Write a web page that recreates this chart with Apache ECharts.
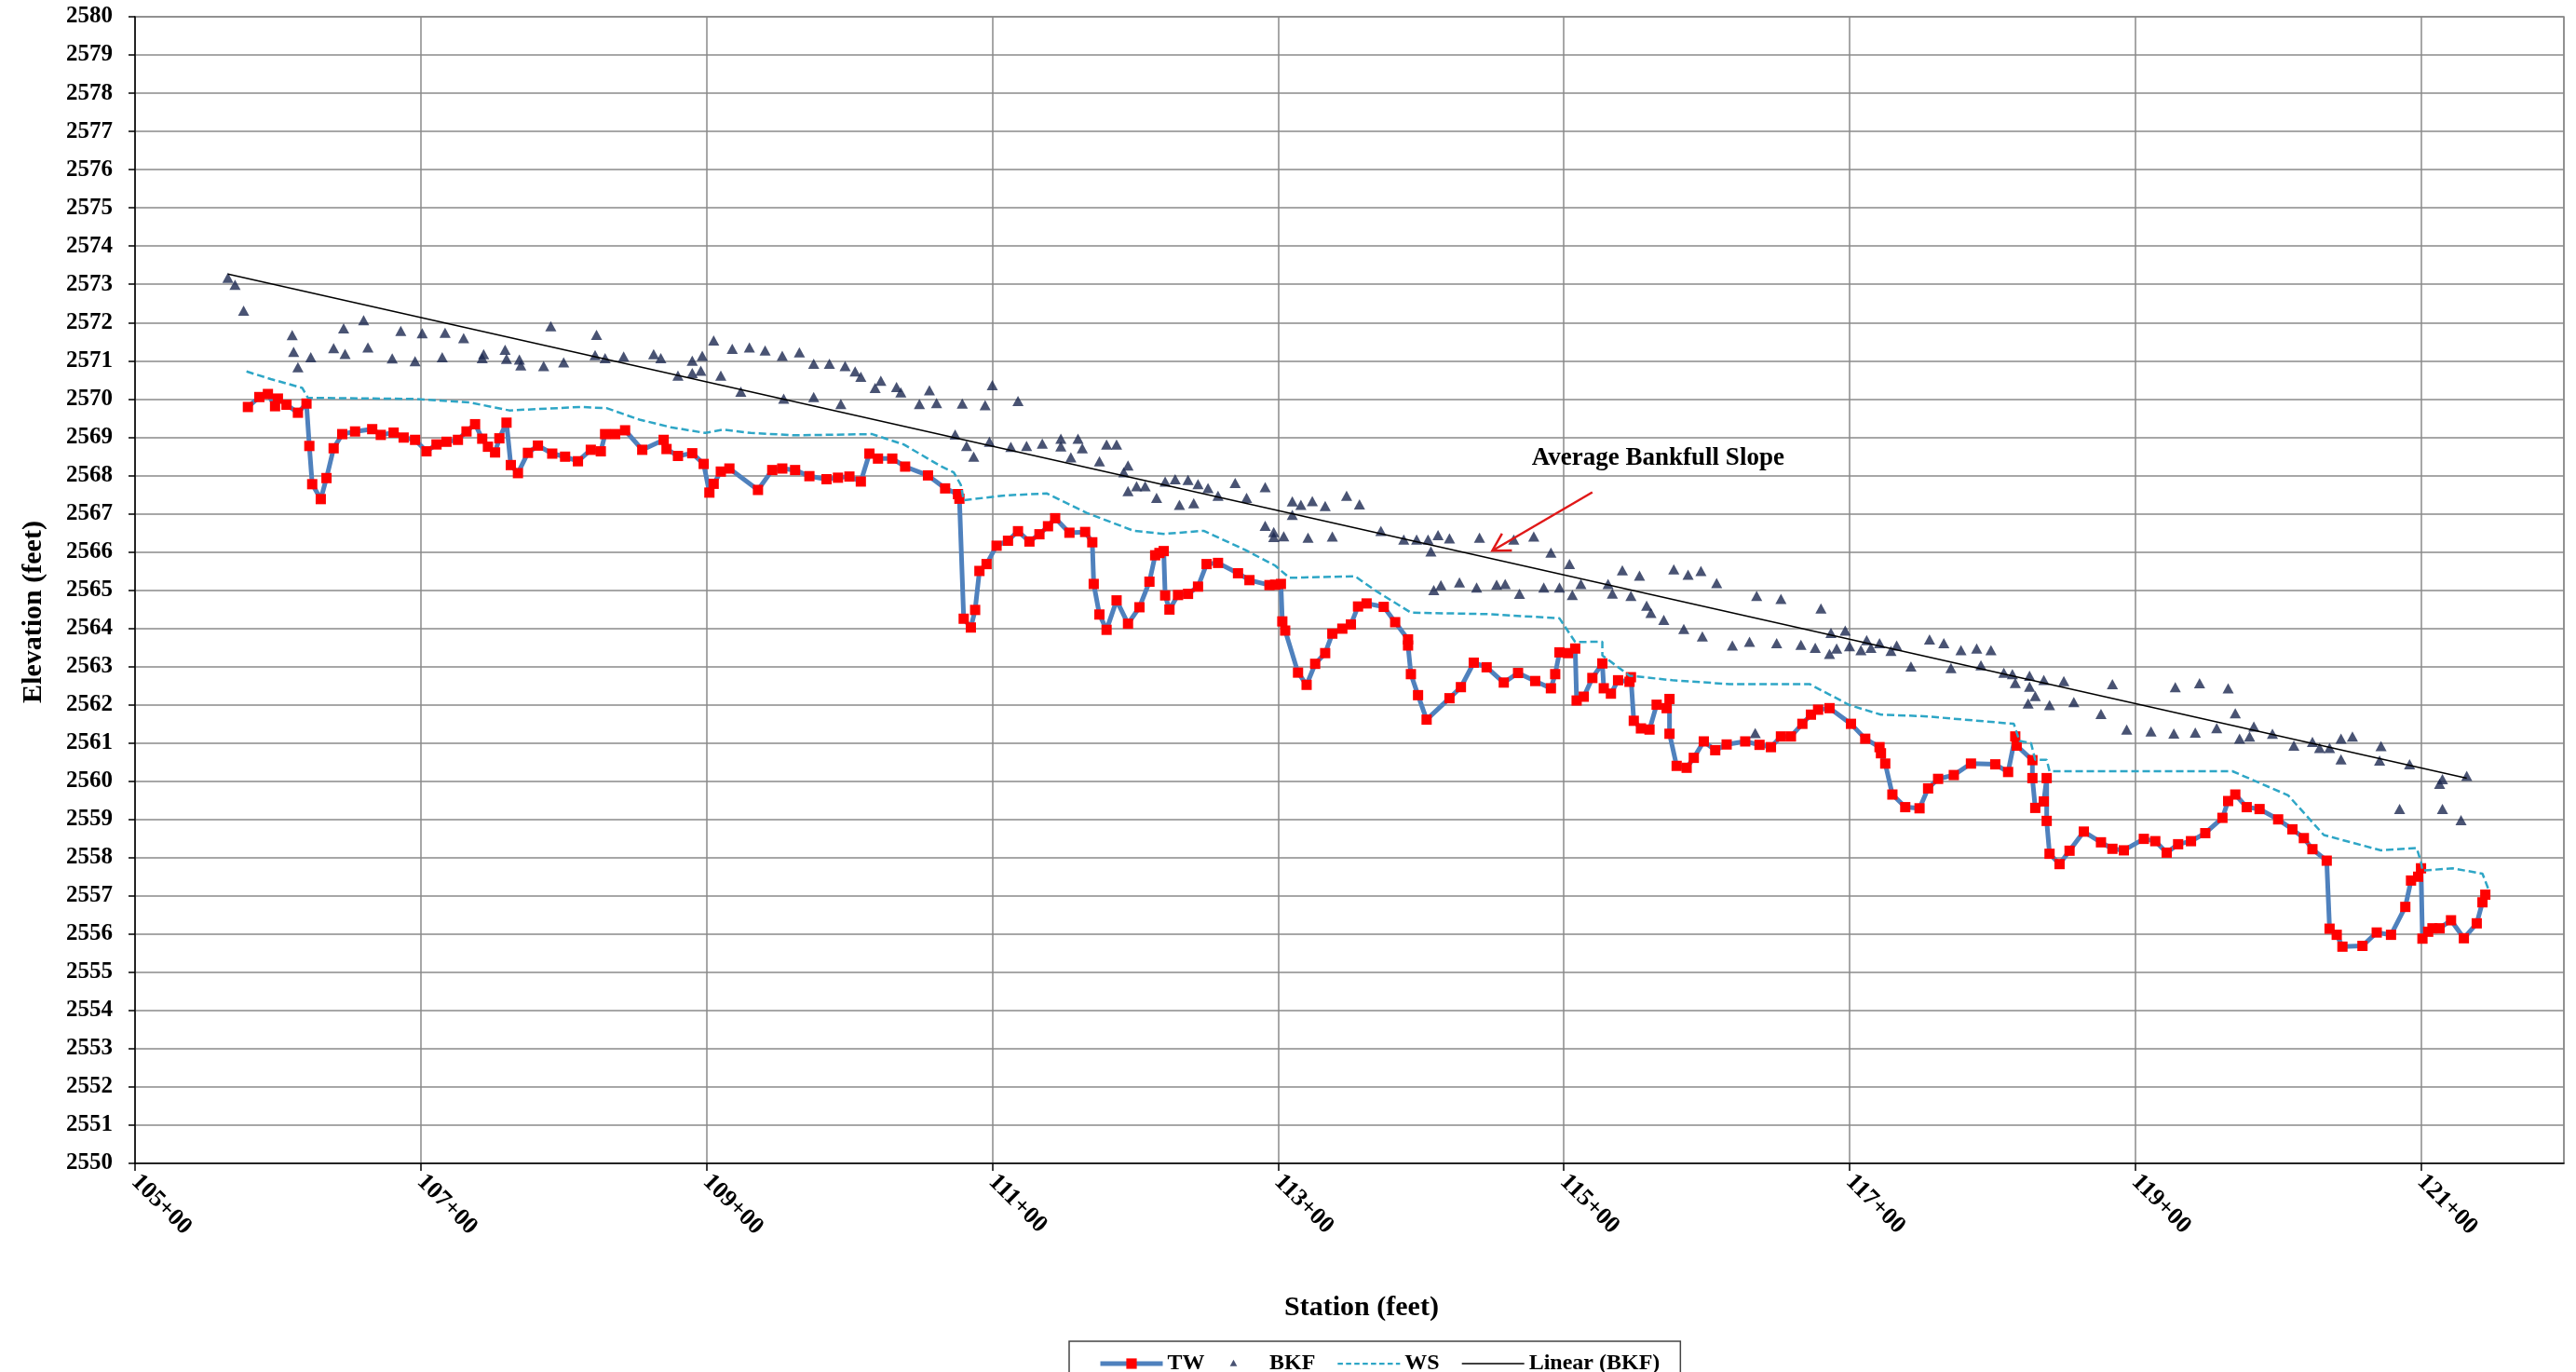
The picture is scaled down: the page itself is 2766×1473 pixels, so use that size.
<!DOCTYPE html>
<html><head><meta charset="utf-8">
<script src="https://cdn.jsdelivr.net/npm/echarts@6.0.0/dist/echarts.min.js"></script>
<style>html,body{margin:0;padding:0;background:#fff;}#c{width:2766px;height:1473px;}</style>
</head><body><div id="c"></div>
<script>
// ---------------- data ----------------
const STATION_ORIGIN = 10500;      // 105+00
const STATION_MAX = 12200;
const STATION_STEP = 200;
const ELEV_MIN = 2550, ELEV_MAX = 2580, ELEV_STEP = 1;

const twStation = [10579,10587,10593,10598,10600,10606,10614,10620,10622,10624,10630,10634,10639,10645,10654,10666,10672,10681,10688,10696,10704,10711,10718,10726,10732,10738,10743,10747,10752,10755,10760,10763,10768,10775,10782,10792,10801,10810,
10819,10826,10829,10836,10843,10855,10870,10872,10880,10890,10898,10902,10905,10910,10916,10936,10946,10953,10962,10972,10984,10992,11000,11008,11014,11020,11030,11039,11055,11067,
11076,11077,11080,11085,11088,11091,11096,11103,11111,11118,11126,11133,11139,11144,11154,11165,11170,11171,11175,11180,11187,11195,11203,11210,11214,11217,11220,11221,11224,11230,11237,11244,11250,11258,11272,11280,11294,11298,11302,11303,11305,11314,11320,
11326,11333,11338,11345,11351,11356,11362,11374,11382,11391,11391,11393,11398,11404,11420,11428,11437,11446,11458,11468,11480,11491,11494,11497,11503,11508,11509,11514,11520,11527,11528,11533,11538,11546,11547,11549,11554,11560,11565,11572,11574,11574,11579,
11586,11591,11598,11606,11614,11627,11637,11645,11652,11659,11667,11673,11678,11686,11701,11711,11721,11722,11725,11730,11739,11749,11755,11762,11773,11785,11802,11811,11816,11817,11828,11828,11830,
11836,11838,11838,11840,11847,11854,11864,11876,11884,11892,11906,11914,11922,11930,11939,11949,11961,11965,11970,11978,11987,12000,12010,12018,12024,12034,
12036,12041,12045,12059,12069,12079,12089,12093,12098,12100,12101,12105,12108,12113,12121,12130,12139,12143,12145];
const twElev = [2569.79,2570.05,2570.13,2569.81,2570.01,2569.85,2569.64,2569.88,2568.77,2567.77,2567.38,2567.93,2568.71,2569.08,2569.15,2569.21,2569.06,2569.12,2568.99,2568.93,2568.63,2568.81,2568.88,2568.93,2569.15,2569.34,2568.96,2568.75,2568.60,2568.97,2569.38,2568.27,2568.06,2568.59,2568.78,2568.57,2568.49,2568.37,
2568.67,2568.63,2569.08,2569.08,2569.18,2568.67,2568.93,2568.69,2568.51,2568.58,2568.30,2567.55,2567.78,2568.10,2568.18,2567.62,2568.14,2568.18,2568.14,2567.98,2567.90,2567.94,2567.97,2567.84,2568.57,2568.44,2568.44,2568.23,2568.00,2567.66,
2567.51,2567.39,2564.25,2564.02,2564.48,2565.50,2565.68,2566.16,2566.29,2566.54,2566.27,2566.46,2566.67,2566.88,2566.50,2566.52,2566.25,2565.16,2564.36,2563.96,2564.73,2564.12,2564.55,2565.22,2565.91,2565.97,2566.02,2564.86,2564.49,2564.87,2564.90,2565.09,2565.68,2565.71,2565.44,2565.26,2565.13,2565.14,2565.16,2564.18,2563.94,2562.84,2562.52,
2563.07,2563.35,2563.86,2563.99,2564.10,2564.57,2564.65,2564.56,2564.16,2563.71,2563.55,2562.80,2562.25,2561.61,2562.17,2562.46,2563.10,2562.98,2562.58,2562.83,2562.62,2562.43,2562.80,2563.37,2563.35,2563.47,2562.11,2562.21,2562.70,2563.08,2562.43,2562.29,2562.64,2562.60,2562.72,2561.58,2561.38,2561.35,2562.00,2561.91,2562.15,2561.24,2560.40,
2560.35,2560.61,2561.04,2560.81,2560.96,2561.04,2560.95,2560.89,2561.17,2561.17,2561.50,2561.74,2561.87,2561.91,2561.50,2561.11,2560.89,2560.73,2560.46,2559.65,2559.32,2559.29,2559.81,2560.06,2560.16,2560.46,2560.44,2560.24,2561.17,2560.93,2560.55,2560.08,2559.30,
2559.47,2560.08,2558.96,2558.10,2557.83,2558.18,2558.68,2558.40,2558.23,2558.19,2558.49,2558.43,2558.13,2558.35,2558.43,2558.64,2559.04,2559.48,2559.65,2559.32,2559.27,2559.00,2558.74,2558.51,2558.22,2557.92,
2556.14,2555.98,2555.67,2555.69,2556.04,2555.98,2556.71,2557.40,2557.50,2557.72,2555.88,2556.06,2556.15,2556.15,2556.36,2555.89,2556.28,2556.83,2557.03];

const bkfStation = [10565,10570,10576,10610,10611,10614,10623,10639,10646,10647,10660,10663,10680,10686,10696,10701,10715,10717,10730,10743,10744,10759,10760,10769,10770,10786,10791,10800,
10822,10823,10829,10842,10863,10868,10880,10890,10890,10896,10897,10905,10910,10918,10924,10930,10941,10953,10954,10965,10975,10975,10986,10994,10997,11004,11008,11018,11022,11033,11036,11049,11056,11061,
11074,11079,11082,11087,11095,11098,11100,11113,11118,11124,11135,11148,11148,11155,11160,11163,11175,11180,11187,11192,11195,11195,11201,11207,11215,11221,11228,11231,11237,11241,11244,11251,11258,11270,11278,11291,11291,11297,11297,11304,11310,11310,11316,11321,11324,
11333,11338,11348,11357,11372,11388,11397,11405,11407,11412,11420,11441,11465,11479,11491,11409,11414,11427,11439,11453,11459,11469,11486,11497,11504,11506,11512,11531,11534,11541,11553,11547,11558,11561,11570,11577,
11587,11596,11607,11635,11652,11680,11584,11597,11618,11630,11649,11666,11676,11686,11687,11691,11697,11700,11708,11712,11715,11721,11729,11733,11743,11756,11766,11771,11778,11789,11792,11799,11808,11814,11816,11826,11826,11830,11825,11634,
11836,11840,11850,11857,11876,11884,11894,11911,11927,11928,11942,11945,11957,11965,11970,11973,11980,11983,11996,12011,
12024,12029,12036,12044,12044,12052,12072,12071,12092,12085,12113,12115,12115,12128,12132];
const bkfElev = [2573.17,2572.99,2572.31,2571.67,2571.23,2570.83,2571.09,2571.33,2571.85,2571.18,2572.06,2571.35,2571.06,2571.78,2570.99,2571.72,2571.09,2571.73,2571.59,2571.07,2571.17,2571.29,2571.05,2571.03,2570.88,2570.86,2571.90,2570.96,
2571.15,2571.68,2571.07,2571.11,2571.17,2571.07,2570.61,2571.00,2570.68,2570.74,2571.13,2571.53,2570.61,2571.31,2570.19,2571.35,2571.27,2571.13,2570.01,2571.22,2570.92,2570.05,2570.92,2569.87,2570.86,2570.72,2570.58,2570.29,2570.48,2570.31,2570.17,2569.87,2570.23,2569.89,
2569.07,2569.88,2568.77,2568.49,2569.84,2568.88,2570.36,2568.75,2569.95,2568.77,2568.83,2568.96,2568.76,2568.47,2568.96,2568.71,2568.37,2568.81,2568.81,2568.08,2568.26,2567.59,2567.72,2567.72,2567.41,2567.84,2567.90,2567.23,2567.88,2567.27,2567.77,2567.67,2567.47,2567.80,2567.41,2567.69,2566.68,2566.52,2566.39,2566.41,2567.32,2566.97,2567.23,2566.37,2567.33,
2567.20,2566.40,2567.47,2567.24,2566.55,2566.32,2566.32,2566.32,2566.01,2566.44,2566.35,2566.37,2566.32,2566.40,2565.98,2565.00,2565.13,2565.20,2565.07,2565.14,2565.16,2564.90,2565.07,2565.07,2565.68,2564.87,2565.16,2565.16,2564.91,2565.52,2565.38,2564.85,2564.59,2564.40,2564.22,2565.54,
2565.40,2565.50,2565.18,2564.85,2564.77,2564.52,2563.98,2563.79,2563.55,2563.65,2563.61,2563.57,2563.49,2563.33,2563.88,2563.47,2563.94,2563.53,2563.43,2563.69,2563.49,2563.61,2563.41,2563.55,2563.00,2563.71,2563.61,2562.96,2563.43,2563.47,2563.03,2563.43,2562.84,2562.80,2562.57,2562.76,2562.47,2562.23,2562.03,2561.26,
2562.65,2561.99,2562.62,2562.07,2561.76,2562.54,2561.35,2561.30,2561.25,2562.46,2561.27,2562.56,2561.39,2562.43,2561.78,2561.11,2561.17,2561.43,2561.24,2560.93,
2561.03,2560.87,2560.87,2561.11,2560.57,2561.17,2560.92,2560.54,2560.44,2559.27,2559.93,2560.05,2559.27,2558.98,2560.14];

const wsStation = [10578,10595,10617,10621,10697,10734,10762,10773,10812,10830,10853,10875,10899,10912,10931,10962,11016,11038,11064,11073,11078,11080,11107,11138,11166,11199,11220,11248,11277,11298,11308,11318,11354,11368,11393,11448,11497,11508,11527,11527,11546,11576,11616,11672,11700,11722,11752,11815,11819,11827,11830,11838,11840,11968,12007,12032,12072,12097,12100,12101,12122,12143,12147];
const wsElev = [2570.72,2570.52,2570.29,2570.03,2570.00,2569.91,2569.70,2569.72,2569.79,2569.76,2569.46,2569.26,2569.11,2569.20,2569.11,2569.05,2569.08,2568.81,2568.24,2568.08,2567.75,2567.35,2567.47,2567.53,2567.02,2566.55,2566.47,2566.55,2566.05,2565.64,2565.32,2565.33,2565.36,2564.99,2564.41,2564.37,2564.26,2563.64,2563.65,2563.29,2562.76,2562.64,2562.54,2562.54,2561.99,2561.74,2561.70,2561.50,2561.05,2561.00,2560.56,2560.56,2560.26,2560.26,2559.63,2558.59,2558.19,2558.25,2557.88,2557.66,2557.72,2557.58,2557.19];

const seriesNames = ['TW', 'BKF', 'WS', 'Linear (BKF)'];
const annotationText = 'Average Bankfull Slope';
const annotationTextAt = [11566, 2568.44];
const annotationArrowFrom = [11520, 2567.56];
const annotationArrowTo = [11450, 2566.03];

// ---------------- build ----------------
const pairs = (s, e) => s.map((v, i) => [v - STATION_ORIGIN, e[i]]);
function linReg(xs, ys) {
  const n = xs.length;
  let sx = 0, sy = 0, sxx = 0, sxy = 0;
  for (let i = 0; i < n; i++) { sx += xs[i]; sy += ys[i]; sxx += xs[i]*xs[i]; sxy += xs[i]*ys[i]; }
  const b = (n*sxy - sx*sy) / (n*sxx - sx*sx);
  const a = (sy - b*sx) / n;
  return { a, b };
}
const reg = linReg(bkfStation, bkfElev);
const bMin = Math.min(...bkfStation), bMax = Math.max(...bkfStation);
const trendData = [[bMin - STATION_ORIGIN, reg.a + reg.b*bMin], [bMax - STATION_ORIGIN, reg.a + reg.b*bMax]];

const FONT = '"Liberation Serif","Times New Roman",serif';
const fmtStation = v => {
  const s = Math.round(v + STATION_ORIGIN);
  return Math.floor(s/100) + '+' + String(s % 100).padStart(2, '0');
};

const WS_COLOR = '#2EA6C6';
const TW_LINE = '#4F81BD';
const chart = echarts.init(document.getElementById('c'));
chart.setOption({
  animation: false,
  backgroundColor: '#fff',
  grid: { left: 145, top: 18, right: 13, bottom: 224, containLabel: false, outerBoundsMode: 'none',
          show: true, borderColor: '#8a8a8a', borderWidth: 1.5, backgroundColor: 'transparent' },
  xAxis: {
    type: 'value', min: 0, max: STATION_MAX - STATION_ORIGIN, interval: STATION_STEP,
    name: 'Station (feet)', nameLocation: 'middle', nameGap: 140,
    nameTextStyle: { fontFamily: FONT, fontWeight: 'bold', fontSize: 30, color: '#000', padding: [0, 0, 0, 26] },
    axisLine: { show: true, onZero: false, lineStyle: { color: '#000', width: 1.5 } },
    axisTick: { show: true, length: 8, lineStyle: { color: '#000', width: 1.5 } },
    axisLabel: { rotate: -45, margin: 16, showMaxLabel: false, fontFamily: FONT, fontWeight: 'bold', fontSize: 26, color: '#000',
                 formatter: v => (Math.round(v) % STATION_STEP === 0 ? fmtStation(v) : '') },
    splitLine: { show: true, lineStyle: { color: '#8a8a8a', width: 1.5 } }
  },
  yAxis: {
    type: 'value', min: ELEV_MIN, max: ELEV_MAX, interval: ELEV_STEP,
    name: 'Elevation (feet)', nameLocation: 'middle', nameGap: 94,
    nameTextStyle: { fontFamily: FONT, fontWeight: 'bold', fontSize: 30, color: '#000', padding: [0, 47, 0, 0] },
    axisLine: { show: true, onZero: false, lineStyle: { color: '#000', width: 1.5 } },
    axisTick: { show: true, length: 7, lineStyle: { color: '#000', width: 1.5 } },
    axisLabel: { margin: 24, fontFamily: FONT, fontWeight: 'bold', fontSize: 25, color: '#000',
                 formatter: v => String(Math.round(v)) },
    splitLine: { show: true, lineStyle: { color: '#8a8a8a', width: 1.5 } }
  },
  legend: {
    left: 1148, top: 1440, orient: 'horizontal',
    itemWidth: 67, itemHeight: 14, itemGap: 24,
    padding: [12, 22, 30, 31],
    borderColor: '#444', borderWidth: 1.5,
    textStyle: { fontFamily: FONT, fontWeight: 'bold', fontSize: 24, color: '#000' },
    data: [
      { name: seriesNames[0], lineStyle: { width: 5, color: TW_LINE } },
      { name: seriesNames[1], icon: 'path://M0,0 M20,20 M10,4 L15.5,14 L4.5,14 Z' },
      { name: seriesNames[2], icon: 'path://M0,0 M60,10 M0,4h5v2.2h-5z M8,4h5v2.2h-5z M16,4h5v2.2h-5z M24,4h5v2.2h-5z M32,4h5v2.2h-5z M40,4h5v2.2h-5z M48,4h5v2.2h-5z M56,4h4v2.2h-4z' },
      { name: seriesNames[3], icon: 'path://M0,0 M60,10 M0,4.3h60v1.4h-60z' }
    ]
  },
  series: [
    { name: seriesNames[0], type: 'line', data: pairs(twStation, twElev),
      symbol: 'rect', symbolSize: 11, showSymbol: true,
      lineStyle: { color: TW_LINE, width: 5 }, itemStyle: { color: '#FF0000' }, z: 2 },
    { name: seriesNames[1], type: 'scatter', data: pairs(bkfStation, bkfElev),
      symbol: 'triangle', symbolSize: [12, 11], itemStyle: { color: '#1B2850' }, z: 3 },
    { name: seriesNames[2], type: 'line', data: pairs(wsStation, wsElev), symbol: 'none',
      lineStyle: { color: WS_COLOR, width: 2.5, type: [8, 4] }, itemStyle: { color: WS_COLOR }, z: 4 },
    { name: seriesNames[3], type: 'line', data: trendData, symbol: 'none',
      lineStyle: { color: '#000', width: 1.5 }, itemStyle: { color: '#000' }, z: 5 }
  ]
});

// annotation (text + red arrow), placed through the chart's own coordinate system
function addAnnotation() {
  const P = d => chart.convertToPixel({ gridIndex: 0 }, [d[0] - STATION_ORIGIN, d[1]]);
  const t = P(annotationTextAt), a = P(annotationArrowFrom), b = P(annotationArrowTo);
  const dx = a[0] - b[0], dy = a[1] - b[1], L = Math.hypot(dx, dy);
  const ux = dx / L, uy = dy / L, hl = 21, ang = 30 * Math.PI / 180;
  const rot = (x, y, th) => [x*Math.cos(th) - y*Math.sin(th), x*Math.sin(th) + y*Math.cos(th)];
  const w1 = rot(ux, uy, ang), w2 = rot(ux, uy, -ang);
  chart.setOption({
    graphic: [
      { type: 'text', x: t[0], y: t[1], z: 100,
        style: { text: annotationText, font: 'bold 27px ' + FONT, fill: '#000', align: 'center', verticalAlign: 'middle' } },
      { type: 'line', z: 100, shape: { x1: a[0], y1: a[1], x2: b[0], y2: b[1] }, style: { stroke: '#E01818', lineWidth: 2.5 } },
      { type: 'polyline', z: 100, shape: { points: [[b[0] + w1[0]*hl, b[1] + w1[1]*hl], b, [b[0] + w2[0]*hl, b[1] + w2[1]*hl]] },
        style: { stroke: '#E01818', lineWidth: 2.5, fill: null } }
    ]
  });
}
addAnnotation();
</script>
</body></html>
